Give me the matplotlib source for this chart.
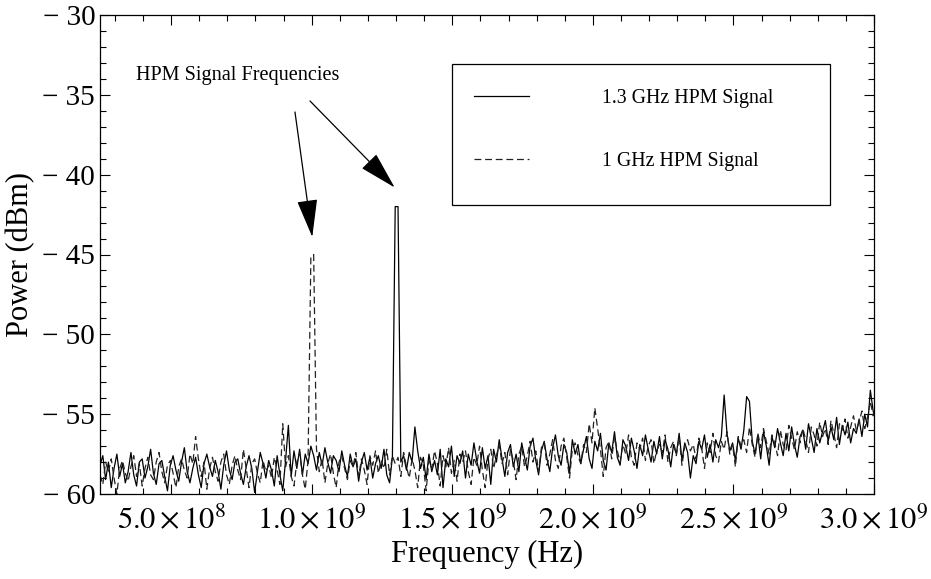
import numpy as np
import matplotlib
matplotlib.use("Agg")
import matplotlib.pyplot as plt
from matplotlib.ticker import MultipleLocator, FuncFormatter
from matplotlib.patches import Rectangle

plt.rcParams['font.family'] = ['Liberation Serif', 'DejaVu Serif']
plt.rcParams['mathtext.fontset'] = 'stix'

# analyzer sweep: 277 points, 10 MHz apart
f_start = 2.47e8
f_step = 1.0e7
n_points = 277
freq = f_start + f_step * np.arange(n_points)

# power, 1.3 GHz HPM signal (solid)
p_13ghz = [
    -58.2, -57.6, -59.1, -58.0, -59.6, -58.4, -57.5, -58.9, -58.1, -59.3,
    -58.6, -57.4, -58.8, -59.5, -58.0, -57.8, -59.0, -58.3, -57.2, -58.7,
    -59.4, -58.1, -57.9, -58.9, -59.8, -58.2, -57.6, -58.5, -59.2, -58.0,
    -57.1, -58.6, -59.3, -58.4, -57.7, -58.8, -59.6, -58.1, -57.5, -58.3,
    -58.9, -57.9, -58.6, -59.7, -58.2, -57.3, -58.5, -59.1, -58.0, -57.8,
    -58.7, -59.4, -58.3, -57.6, -58.4, -59.9, -58.6, -57.4, -58.1, -59.0,
    -57.9, -58.5, -59.5, -57.6, -58.8, -59.8, -57.9, -55.7, -58.9, -57.3,
    -58.4, -57.2, -58.8, -57.5, -58.1, -57.0, -57.6, -58.5, -57.4, -58.2,
    -57.1, -58.0, -58.7, -57.6, -57.9, -58.6, -57.3, -58.2, -58.9, -57.5,
    -58.3, -57.8, -59.2, -58.0, -57.4, -58.5, -57.7, -59.0, -58.1, -57.6,
    -58.4, -57.2, -58.8, -59.3, -57.7, -42.0, -42.0, -58.0, -57.6, -58.5,
    -57.4, -58.0, -55.8, -57.3, -58.4, -57.7, -59.1, -57.5, -58.6, -57.9,
    -58.8, -57.2, -59.6, -57.8, -58.3, -57.0, -58.9, -57.6, -58.1, -57.3,
    -59.0, -57.5, -58.2, -56.8, -57.9, -58.7, -57.1, -58.4, -57.6, -59.4,
    -57.2, -58.0, -56.6, -57.8, -58.9, -57.4, -56.9, -58.3, -57.5, -58.6,
    -56.8, -57.7, -58.5, -57.0, -56.5, -57.9, -58.8, -57.3, -56.7, -57.8,
    -58.6, -57.1, -56.3, -57.6, -58.2, -56.9, -57.4, -58.7, -56.6, -57.5,
    -56.9, -58.1, -57.2, -56.4, -57.8, -58.4, -56.7, -57.3, -56.2, -57.9,
    -58.5, -56.8, -57.4, -56.1, -57.7, -58.2, -56.6, -57.0, -57.9, -56.5,
    -57.3, -58.4, -56.9, -57.6, -56.3, -57.2, -58.0, -56.7, -57.5, -56.4,
    -57.8, -56.6, -57.2, -58.3, -56.9, -57.5, -56.2, -57.9, -56.8, -57.4,
    -59.0, -57.6, -58.1, -56.7, -57.2, -56.3, -57.7, -56.9, -58.0, -56.6,
    -57.1, -56.4, -53.8, -56.2, -57.3, -56.8, -57.9, -56.5, -57.2, -56.0,
    -53.9, -54.2, -56.7, -57.5, -56.3, -57.8, -56.1, -57.0, -58.2, -56.4,
    -57.1, -55.9, -56.8, -57.6, -56.2, -57.3, -55.8, -56.9, -57.7, -56.4,
    -56.0, -57.2, -55.6, -56.5, -57.4, -55.9, -56.8, -56.1, -55.4, -56.7,
    -55.8, -56.6, -55.2, -56.9, -55.7, -56.3, -55.5, -56.8, -55.9, -56.2,
    -55.3, -56.4, -55.0, -55.8, -53.5, -54.8, -55.5,
]

# 1 GHz HPM signal (dashed)
p_1ghz = [
    -58.8, -59.4, -58.0, -58.6, -57.8, -59.0, -60.0, -58.4, -57.9, -58.7,
    -59.2, -58.3, -57.6, -58.9, -58.1, -59.5, -58.4, -57.7, -58.8, -59.1,
    -58.0, -57.4, -58.6, -59.3, -58.2, -57.9, -58.7, -59.6, -58.3, -57.8,
    -58.5, -59.0, -57.5, -58.1, -56.4, -57.8, -58.9, -58.0, -59.7, -58.4,
    -57.7, -58.6, -59.2, -58.0, -57.5, -58.8, -59.4, -58.2, -57.6, -58.5,
    -59.1, -57.2, -58.4, -59.6, -58.1, -57.8, -58.7, -59.3, -57.9, -58.6,
    -58.2, -59.0, -57.7, -58.5, -59.4, -55.6, -58.3, -57.6, -58.9, -59.5,
    -58.0, -57.4, -58.8, -59.7, -57.9, -45.2, -45.0, -57.2, -58.6, -57.8,
    -59.3, -58.1, -57.5, -58.7, -59.6, -58.0, -57.6, -58.4, -59.1, -57.9,
    -58.3, -57.4, -58.9, -57.8, -58.5, -59.4, -57.6, -58.2, -57.3, -58.7,
    -57.9, -58.4, -57.2, -58.8, -57.6, -58.1, -57.7, -58.9, -57.4, -58.3,
    -59.0, -57.8, -58.5, -59.6, -57.7, -58.2, -59.8, -57.9, -58.4, -57.3,
    -58.1, -59.5, -57.6, -58.3, -57.1, -58.7, -57.9, -59.2, -57.5, -58.0,
    -57.3, -58.6, -59.4, -57.7, -58.2, -57.0, -58.5, -59.6, -57.8, -57.2,
    -58.4, -57.6, -56.9, -58.1, -57.4, -58.8, -57.2, -57.9, -59.1, -57.5,
    -57.0, -58.3, -57.6, -56.7, -58.0, -57.3, -58.6, -57.1, -56.8, -58.2,
    -57.5, -56.6, -57.9, -58.4, -57.0, -56.5, -57.7, -59.0, -57.2, -56.8,
    -57.6, -58.1, -56.9, -57.4, -55.6, -56.8, -54.6, -55.9, -57.2, -58.9,
    -57.1, -56.7, -57.8, -56.4, -57.3, -58.0, -56.9, -57.5, -56.3, -57.7,
    -58.2, -56.8, -57.2, -56.5, -57.9, -57.0, -56.6, -58.1, -57.3, -56.9,
    -57.4, -56.3, -58.0, -57.1, -56.7, -57.6, -56.4, -58.2, -57.0, -56.6,
    -57.3, -56.9, -57.8, -56.5, -57.1, -58.4, -56.8, -57.4, -56.2, -57.6,
    -58.0, -56.7, -57.2, -56.1, -57.5, -56.9, -58.3, -56.4, -57.0, -56.6,
    -57.4, -55.8, -56.9, -57.7, -56.2, -57.1, -55.9, -56.7, -57.5, -56.3,
    -56.8, -57.6, -56.0, -56.9, -57.3, -55.7, -56.5, -57.2, -56.1, -56.8,
    -55.9, -56.6, -57.4, -55.8, -56.3, -57.0, -55.5, -56.4, -55.9, -56.9,
    -55.4, -56.2, -57.1, -55.6, -56.0, -55.3, -56.5, -55.8, -55.1, -56.0,
    -55.5, -54.8, -55.9, -55.2, -54.2, -55.1, -54.6,
]

labels = ['1.3 GHz HPM Signal', '1 GHz HPM Signal']
note = 'HPM Signal Frequencies'

fig = plt.figure(figsize=(9.31, 5.79), dpi=100)
ax = fig.add_axes([100 / 931, 1 - 494 / 579, 774 / 931, 479 / 579])

l1, = ax.plot(freq, p_13ghz, color='black', lw=0.9)
l2, = ax.plot(freq, p_1ghz, color='#222222', lw=0.9, dashes=(5.5, 3))

ax.set_xlim(2.47e8, 3.0e9)
ax.set_ylim(-60, -30)

ax.xaxis.set_major_locator(MultipleLocator(5e8))
ax.xaxis.set_minor_locator(MultipleLocator(1e8))
ax.yaxis.set_major_locator(MultipleLocator(5))
ax.yaxis.set_minor_locator(MultipleLocator(1))


def xfmt(v, pos):
    if v <= 0:
        return ''
    e = int(np.floor(np.log10(v)))
    return r'$%.1f\times10^{%d}$' % (v / 10 ** e, e)


ax.xaxis.set_major_formatter(FuncFormatter(xfmt))
ax.yaxis.set_major_formatter(FuncFormatter(lambda v, p: '\u2212 %d' % abs(v) if v < 0 else '%d' % v))

ax.tick_params(which='both', direction='in', top=True, right=True, width=0.8)
ax.tick_params(axis='y', labelsize=21)
ax.tick_params(axis='x', labelsize=22, pad=8)
ax.tick_params(which='major', length=7)
ax.tick_params(which='minor', length=4)
for s in ax.spines.values():
    s.set_linewidth(0.9)

ax.set_xlabel('Frequency (Hz)', fontsize=22)
ax.set_ylabel('Power (dBm)', fontsize=22)
ax.xaxis.set_label_coords(0.5, -0.096)
ax.yaxis.set_label_coords(-0.084, 0.5)

# legend box
ax.add_patch(Rectangle((0.4548, 0.6033), 0.4884, 0.2944, transform=ax.transAxes,
                       fill=False, lw=0.9, edgecolor='black'))
ax.legend([l1, l2], labels, loc='upper left', bbox_to_anchor=(0.4832, 0.845),
          frameon=False, fontsize=14.3, handlelength=2.76, handletextpad=3.67,
          labelspacing=2.2, borderpad=0, borderaxespad=0)

# annotation arrows to the two peaks
i13 = int(np.argmax(p_13ghz))
i1 = int(np.argmax(p_1ghz))
ax.text(0.0465, 0.8727, note, transform=ax.transAxes, fontsize=14.6, va='center', ha='left')
arrow = dict(arrowstyle='-|>,head_length=2.4,head_width=0.65', color='black', lw=0.9,
             mutation_scale=10, shrinkA=0, shrinkB=0)
ax.annotate('', xy=(freq[i13] - 0.2e7, p_13ghz[i13] + 1.2), xycoords='data',
            xytext=(0.2713, 0.8205), textcoords='axes fraction', arrowprops=arrow)
ax.annotate('', xy=(freq[i1] - 0.5e7, p_1ghz[i1] + 1.1), xycoords='data',
            xytext=(0.2519, 0.7975), textcoords='axes fraction', arrowprops=arrow)

fig.savefig('out.png', dpi=100)
